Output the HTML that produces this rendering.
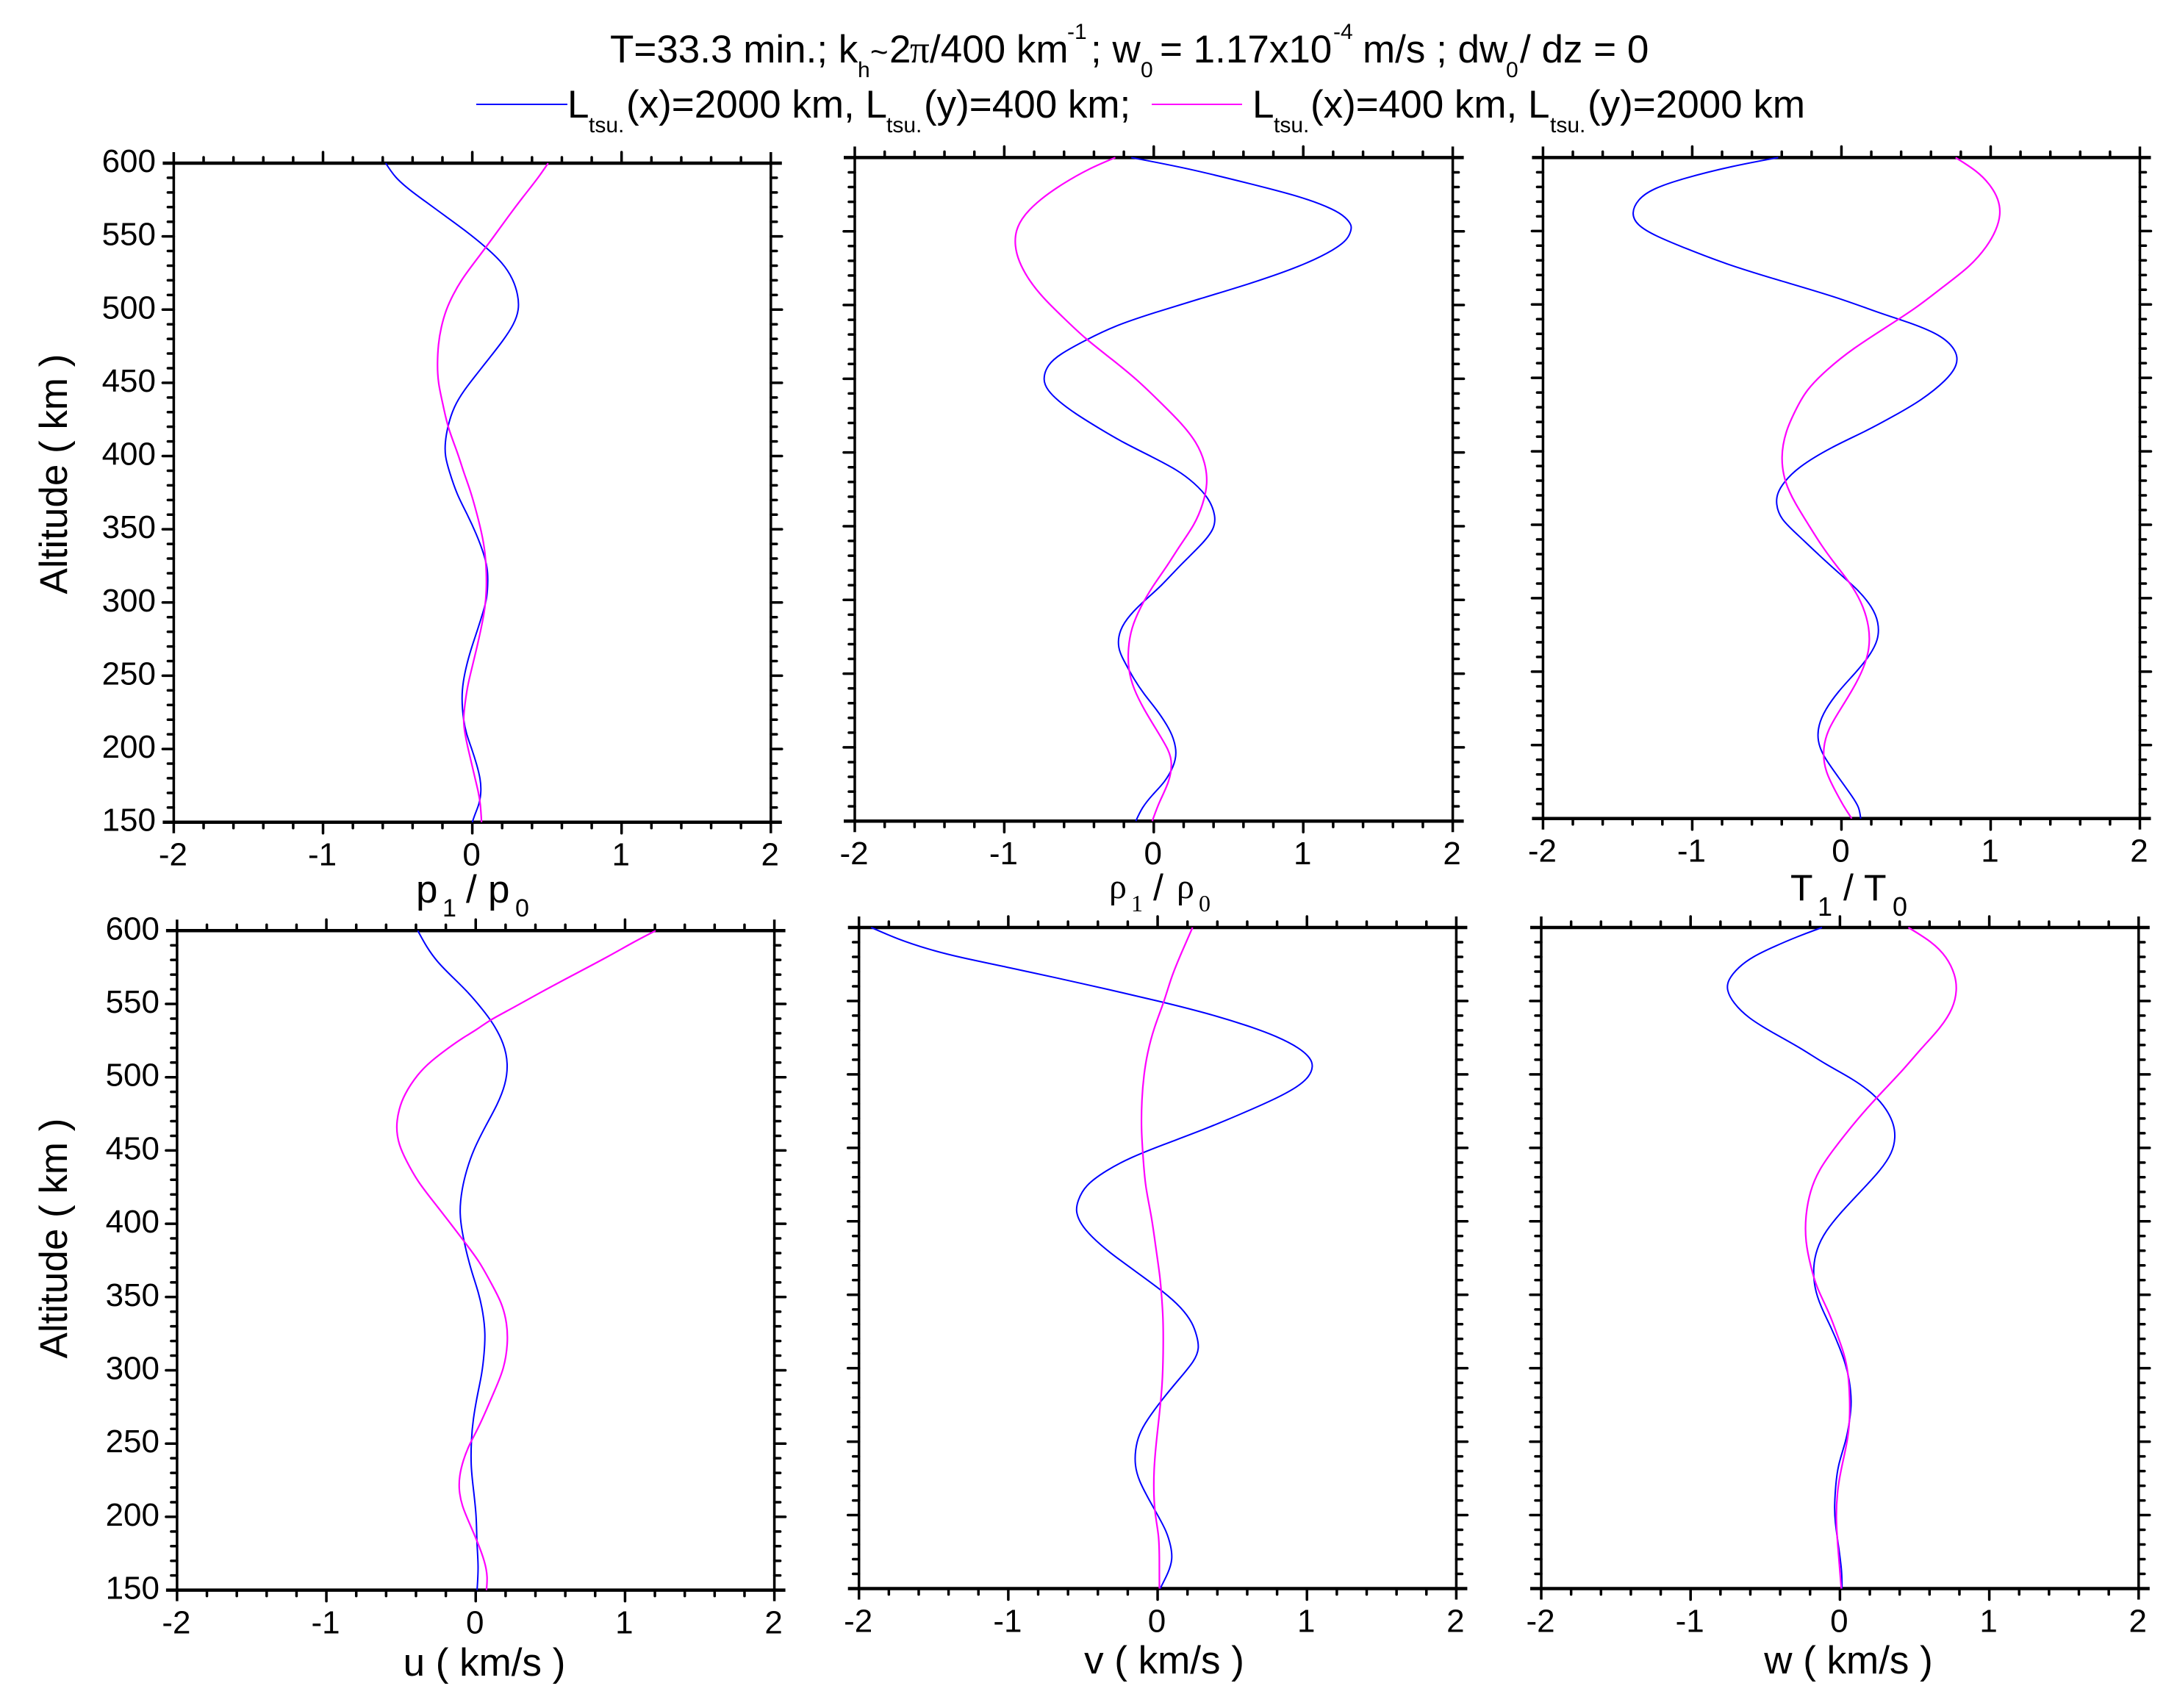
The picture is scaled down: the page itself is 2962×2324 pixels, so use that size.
<!DOCTYPE html>
<html lang="en">
<head>
<meta charset="utf-8">
<title>Altitude profiles of tsunami-driven perturbations</title>
<style>
html,body{margin:0;padding:0;background:#fff;}
svg{display:block;}
text{font-family:"Liberation Sans",Arial,sans-serif;fill:#000;}
.serif{font-family:"Liberation Serif","Times New Roman",serif;}
.main{font-size:53px;}
.sub{font-size:30px;}
.axsub{font-size:34px;}
.axt{font-size:53px;}
</style>
</head>
<body>
<svg id="figure" xmlns="http://www.w3.org/2000/svg" width="2962" height="2324" viewBox="0 0 2962 2324">
<rect width="2962" height="2324" fill="#fff"/>
<g>
<text class="main" x="830" y="85">T=33.3 min.; k</text>
<text class="sub" x="1167" y="105">h</text>
<text x="1184" y="85" font-size="42">~</text>
<text class="main" x="1210" y="85">2</text>
<text class="main serif" x="1238" y="85">π</text>
<text class="main" x="1265" y="85">/400 km</text>
<text class="sub" x="1452" y="53">-1</text>
<text class="main" x="1484" y="85">; w</text>
<text class="sub" x="1552" y="105">0</text>
<text class="main" x="1578" y="85">= 1.17x10</text>
<text class="sub" x="1814" y="53">-4</text>
<text class="main" x="1854" y="85">m/s ; dw</text>
<text class="sub" x="2049" y="105">0</text>
<text class="main" x="2068" y="85">/ dz = 0</text>
</g>
<g>
<g>
<line x1="648" y1="142" x2="772" y2="142" stroke="#0000ff" stroke-width="2"/>
<text class="main" x="772" y="160">L</text>
<text class="sub" x="801" y="180">tsu.</text>
<text class="main" x="852" y="160">(x)=2000 km, L</text>
<text class="sub" x="1206" y="180">tsu.</text>
<text class="main" x="1257" y="160">(y)=400 km;</text>
</g>
<g>
<line x1="1567" y1="142" x2="1690" y2="142" stroke="#ff00ff" stroke-width="2"/>
<text class="main" x="1704" y="160">L</text>
<text class="sub" x="1733" y="180">tsu.</text>
<text class="main" x="1783" y="160">(x)=400 km, L</text>
<text class="sub" x="2109" y="180">tsu.</text>
<text class="main" x="2160" y="160">(y)=2000 km</text>
</g>
</g>
<text class="axt" transform="translate(91 645) rotate(-90)" text-anchor="middle">Altitude ( km )</text>
<text class="axt" transform="translate(91 1685) rotate(-90)" text-anchor="middle">Altitude ( km )</text>
<g>
<text class="axt" x="566" y="1228">p</text>
<text class="axsub" x="602" y="1247">1</text>
<text class="axt" x="634" y="1228">/</text>
<text class="axt" x="664" y="1228">p</text>
<text class="axsub" x="701" y="1247">0</text>
</g>
<g>
<text class="serif" font-size="48" x="1509" y="1222">ρ</text>
<text class="serif" font-size="32" x="1539" y="1240">1</text>
<text font-size="50" x="1569" y="1225">/</text>
<text class="serif" font-size="48" x="1601" y="1222">ρ</text>
<text class="serif" font-size="32" x="1631" y="1240">0</text>
</g>
<g>
<text font-size="50" x="2436" y="1225">T</text>
<text font-size="36" x="2473" y="1246">1</text>
<text font-size="50" x="2508" y="1225">/</text>
<text font-size="50" x="2536" y="1225">T</text>
<text font-size="36" x="2575" y="1246">0</text>
</g>
<text class="axt" x="659" y="2280" text-anchor="middle">u ( km/s )</text>
<text class="axt" x="1584" y="2277" text-anchor="middle">v ( km/s )</text>
<text class="axt" x="2515" y="2277" text-anchor="middle">w ( km/s )</text>
</svg>
<script>
// ---- axis tick labels ----
const xTickLabels = [-2, -1, 0, 1, 2];
const yTickLabels = [150, 200, 250, 300, 350, 400, 450, 500, 550, 600];

// ---- p1/p0 ----
const pBlueAlt = [600,590.4,581.4,572.5,563.5,554.6,543.4,532,521,510,500,490,478.5,467.4,456,445,433.8,420,409,400,390,373.6,361,346.7,333.5,323.4,315,303.3,295,281.5,269.7,258,246,234.7,219.6,209.6,200,189.4,179.3,171,162.7,156,150];
const pBlueVal = [-0.58,-0.52,-0.417,-0.296,-0.176,-0.055,0.083,0.204,0.273,0.307,0.314,0.28,0.204,0.118,0.03,-0.055,-0.124,-0.166,-0.183,-0.183,-0.156,-0.103,-0.037,0.028,0.077,0.102,0.105,0.099,0.077,0.036,-0.004,-0.037,-0.062,-0.072,-0.06,-0.038,-0.003,0.03,0.055,0.06,0.048,0.02,0];
const pMagentaAlt = [600,590.4,577,563.5,550,536.7,521,510,500,487.7,476.6,463,450,433.8,420,400,390,376.7,361.7,348.5,335,320,308.4,296.4,283,268,254.7,243,231,219.6,209.6,200,189.4,179.3,171,162.7,150];
const pMagentaVal = [0.508,0.445,0.34,0.24,0.145,0.048,-0.07,-0.13,-0.176,-0.21,-0.228,-0.235,-0.23,-0.193,-0.166,-0.09,-0.062,-0.013,0.028,0.061,0.086,0.095,0.095,0.086,0.061,0.028,-0.004,-0.032,-0.049,-0.062,-0.048,-0.028,-0.003,0.02,0.04,0.055,0.062];

// ---- rho1/rho0 ----
const rhoBlueAlt = [600,592.7,582,573.4,564.7,559.4,554,550.7,545,538,526,514,504,494.7,486,476,466.6,459.6,449.5,442,435,426.6,416,407,397,388,379.5,369,357,348,337.4,323.4,309.4,300.7,290,279.7,267.5,257,246.6,236,225.6,215,206.4,196,187,176.6,167.8,159,150];
const rhoBlueVal = [-0.15,0.23,0.655,0.99,1.21,1.285,1.325,1.32,1.3,1.22,0.98,0.63,0.3,0,-0.26,-0.46,-0.63,-0.71,-0.745,-0.71,-0.64,-0.53,-0.36,-0.21,-0.01,0.16,0.27,0.37,0.415,0.405,0.32,0.175,0.05,-0.05,-0.16,-0.23,-0.245,-0.19,-0.135,-0.065,0.02,0.09,0.133,0.155,0.133,0.076,-0.01,-0.08,-0.12];
const rhoMagentaAlt = [600,592.7,582,571.7,561,550.7,540,529.7,517.5,505,491,477.3,463,449,435,421,407,393,379,365,351,337,323,309,295,281,267.5,253,239.5,225.6,211.6,197.5,189,176.6,162.6,150];
const rhoMagentaVal = [-0.257,-0.43,-0.615,-0.76,-0.87,-0.925,-0.93,-0.904,-0.84,-0.743,-0.6,-0.46,-0.277,-0.107,0.034,0.175,0.288,0.345,0.362,0.33,0.274,0.175,0.09,-0.01,-0.09,-0.15,-0.172,-0.172,-0.135,-0.065,0.02,0.105,0.124,0.105,0.034,-0.01];

// ---- T1/T0 ----
const tBlueAlt = [600,594.4,585.6,578.6,571.6,562,554,547,538,527.7,517,505,494,487,478.5,468,459,448.7,434.7,424,413.6,403,389,378.5,371.5,364.5,354,343.4,329.4,315,304.8,294,283.8,271.5,259.2,248.7,236.4,224,213.5,203,192.5,178.5,164.4,157.4,150];
const tBlueVal = [-0.424,-0.725,-1.07,-1.27,-1.365,-1.41,-1.37,-1.255,-1.04,-0.78,-0.44,-0.03,0.258,0.478,0.68,0.775,0.78,0.708,0.536,0.35,0.163,-0.066,-0.295,-0.39,-0.43,-0.44,-0.41,-0.295,-0.152,0.006,0.12,0.206,0.25,0.25,0.178,0.09,-0.023,-0.11,-0.155,-0.162,-0.123,-0.023,0.077,0.12,0.129];
const tMagentaAlt = [600,590.9,582,571.6,561,550.5,540,526,512,498,484,470,456,441.7,427.6,413.6,396,378.5,364.5,350.4,336.4,322.4,308,294,280,266,252,238,224,210,196,182,168,157.4,150];
const tMagentaVal = [0.765,0.908,0.994,1.055,1.068,1.037,0.98,0.865,0.68,0.507,0.292,0.077,-0.095,-0.238,-0.31,-0.375,-0.408,-0.38,-0.31,-0.223,-0.138,-0.037,0.077,0.149,0.187,0.19,0.149,0.077,-0.009,-0.095,-0.127,-0.109,-0.037,0.02,0.069];

// ---- u (km/s) ----
const uBlueAlt = [600,589,578.5,568,557.7,547,537,523,509,495,481.4,467.5,450,436,424,408.6,394.7,380.9,367,353,339,325,311.5,297.6,283.8,266.4,252.6,235,221,200.5,183,165.8,150];
const uBlueVal = [-0.388,-0.33,-0.257,-0.152,-0.048,0.04,0.116,0.19,0.218,0.2,0.146,0.07,-0.018,-0.063,-0.092,-0.11,-0.092,-0.063,-0.027,0.02,0.05,0.065,0.057,0.042,0.012,-0.018,-0.03,-0.033,-0.018,0.006,0.006,0.02,0.009];
const uMagentaAlt = [600,592.4,582,568,557.7,547,538.6,532.7,526.5,520.2,511,502,488,478,466,453.7,443,429,415.5,401.7,388,374,360,346,332,318.4,301,287,273,259.5,249,238.7,228,218,207.5,197,183,169,158.9,150];
const uMagentaVal = [1.205,1.06,0.882,0.62,0.43,0.245,0.087,0.012,-0.093,-0.18,-0.3,-0.39,-0.48,-0.515,-0.535,-0.515,-0.465,-0.39,-0.286,-0.18,-0.078,0.027,0.1,0.176,0.21,0.216,0.19,0.13,0.072,0.012,-0.045,-0.084,-0.11,-0.113,-0.092,-0.048,0.012,0.063,0.08,0.072];

// ---- v (km/s) ----
const vBlueAlt = [600,592,585,580,573,566,557.5,550,542,533,526,517.7,510.8,505.6,498.7,491.7,483,472.7,462.3,452,443.3,434.7,424.3,414,407,398.3,389.7,379.3,365.5,351.6,341,330.9,322,313.6,305,293,279,265,254.8,244.4,234,223.7,210,199.5,189,178.7,170,161.4,150];
const vBlueVal = [-1.918,-1.74,-1.53,-1.34,-1.008,-0.69,-0.315,0.003,0.32,0.61,0.797,0.956,1.026,1.042,1.018,0.942,0.783,0.55,0.306,0.032,-0.185,-0.344,-0.488,-0.535,-0.55,-0.517,-0.445,-0.33,-0.142,0.046,0.162,0.234,0.263,0.28,0.248,0.147,0.032,-0.07,-0.127,-0.15,-0.153,-0.127,-0.055,0.003,0.06,0.09,0.1,0.075,0.017];
const vMagentaAlt = [600,583.4,566,550,531.5,514,500,483,462,445,424,403.5,381.8,362,350,334,310,289,268.6,250,230.6,213,200,186,172,150];
const vMagentaVal = [0.234,0.162,0.09,0.046,-0.026,-0.07,-0.092,-0.107,-0.11,-0.098,-0.084,-0.04,-0.012,0.017,0.026,0.038,0.038,0.032,0.012,-0.009,-0.026,-0.026,-0.017,0.009,0.012,0.012];

// ---- w (km/s) ----
const wBlueAlt = [600,593.8,586.9,580,573,564.4,557.5,548.8,538.4,528,517.7,507,497,486.5,476,466,457,446.8,434.7,420.8,407,393,381,369,355,342,327.4,313.6,303,292.8,277,265,251,234,220,206.4,196,178.7,161.4,150];
const wBlueVal = [-0.12,-0.286,-0.444,-0.587,-0.68,-0.75,-0.76,-0.716,-0.616,-0.444,-0.258,-0.1,0.086,0.229,0.315,0.362,0.372,0.352,0.272,0.143,0.014,-0.1,-0.157,-0.18,-0.172,-0.129,-0.057,0,0.037,0.063,0.08,0.066,0.043,-0.014,-0.029,-0.037,-0.034,-0.009,0.014,0.014];
const wMagentaAlt = [600,590.3,580,567.8,557.5,545,531.5,517.7,503.8,490,476,462,449,434.7,420.8,403.5,386,369,355,338,324,310,296.3,279,265,251,234,220,199.5,178.7,161.4,150];
const wMagentaVal = [0.458,0.616,0.716,0.772,0.785,0.759,0.673,0.544,0.43,0.3,0.172,0.057,-0.043,-0.143,-0.2,-0.232,-0.232,-0.195,-0.157,-0.072,-0.023,0.029,0.057,0.066,0.066,0.052,0.014,-0.014,-0.029,-0.014,0,0.009];

const SVGNS = 'http://www.w3.org/2000/svg';
const figure = document.getElementById('figure');
const xMin = -2, xMax = 2, yMin = 150, yMax = 600;
const xMinorStep = 0.2, yMinorStep = 10;
const majorLen = 15, minorLen = 8;

function make(tag, parent, attrs) {
  const node = document.createElementNS(SVGNS, tag);
  for (const key in attrs) node.setAttribute(key, attrs[key]);
  parent.appendChild(node);
  return node;
}

function isMultiple(v, step) {
  return Math.abs(v / step - Math.round(v / step)) < 1e-6;
}

// Smooth cubic B-spline through the read-off control points (end points are pinned).
function curvePath(alts, vals, sx, sy) {
  const pts = alts.map(function (a, i) { return [sx(vals[i]), sy(a)]; });
  const n = pts.length;
  const at = function (i) {
    if (i < 0) return [2 * pts[0][0] - pts[1][0], 2 * pts[0][1] - pts[1][1]];
    if (i >= n) return [2 * pts[n - 1][0] - pts[n - 2][0], 2 * pts[n - 1][1] - pts[n - 2][1]];
    return pts[i];
  };
  let d = 'M' + pts[0][0].toFixed(2) + ' ' + pts[0][1].toFixed(2);
  for (let i = 0; i < n - 1; i++) {
    const p1 = at(i), p2 = at(i + 1), p3 = at(i + 2);
    const c1x = (2 * p1[0] + p2[0]) / 3, c1y = (2 * p1[1] + p2[1]) / 3;
    const c2x = (p1[0] + 2 * p2[0]) / 3, c2y = (p1[1] + 2 * p2[1]) / 3;
    const ex = (p1[0] + 4 * p2[0] + p3[0]) / 6, ey = (p1[1] + 4 * p2[1] + p3[1]) / 6;
    d += 'C' + c1x.toFixed(2) + ' ' + c1y.toFixed(2) + ' ' + c2x.toFixed(2) + ' ' + c2y.toFixed(2) + ' ' + ex.toFixed(2) + ' ' + ey.toFixed(2);
  }
  return d;
}

function drawPanel(name, box, blueAlt, blueVal, magentaAlt, magentaVal) {
  const sx = function (v) { return box.left + (v - xMin) / (xMax - xMin) * (box.right - box.left); };
  const sy = function (a) { return box.bottom - (a - yMin) / (yMax - yMin) * (box.bottom - box.top); };

  const panel = make('g', figure, {});
  
  

  const axes = make('g', panel, { stroke: '#000', fill: 'none' });
  
  
  make('line', axes, { x1: box.left - majorLen, x2: box.right + majorLen, y1: box.top, y2: box.top, 'stroke-width': 4.5 });
  make('line', axes, { x1: box.left - majorLen, x2: box.right + majorLen, y1: box.bottom, y2: box.bottom, 'stroke-width': 4.5 });
  make('line', axes, { x1: box.left, x2: box.left, y1: box.top - majorLen, y2: box.bottom + majorLen, 'stroke-width': 3.5 });
  make('line', axes, { x1: box.right, x2: box.right, y1: box.top - majorLen, y2: box.bottom + majorLen, 'stroke-width': 3.5 });

  const ticks = make('g', panel, { stroke: '#000', 'stroke-width': 3.5, 'stroke-linecap': 'round' });
  
  
  const xCount = Math.round((xMax - xMin) / xMinorStep);
  for (let i = 1; i < xCount; i++) {
    const v = xMin + i * xMinorStep;
    if (isMultiple(v, 1)) {
      make('line', ticks, { x1: sx(v), x2: sx(v), y1: box.top - majorLen, y2: box.top });
      make('line', ticks, { x1: sx(v), x2: sx(v), y1: box.bottom, y2: box.bottom + majorLen });
    } else {
      make('line', ticks, { x1: sx(v), x2: sx(v), y1: box.top - minorLen, y2: box.top });
      make('line', ticks, { x1: sx(v), x2: sx(v), y1: box.bottom, y2: box.bottom + minorLen });
    }
  }
  const yCount = Math.round((yMax - yMin) / yMinorStep);
  for (let i = 1; i < yCount; i++) {
    const a = yMin + i * yMinorStep;
    const len = isMultiple(a, 50) ? majorLen : minorLen;
    make('line', ticks, { x1: box.left - len, x2: box.left, y1: sy(a), y2: sy(a) });
    make('line', ticks, { x1: box.right, x2: box.right + len, y1: sy(a), y2: sy(a) });
  }

  const xLabels = make('g', panel, { 'text-anchor': 'middle', 'font-size': 44 });
  
  
  xTickLabels.forEach(function (v) {
    const label = make('text', xLabels, { x: sx(v) - 1, y: box.bottom + 59 });
    label.textContent = String(v);
  });

  if (box.yLabelRight) {
    const yLabels = make('g', panel, { 'text-anchor': 'end', 'font-size': 44 });
    
    
    yTickLabels.forEach(function (a) {
      const label = make('text', yLabels, { x: box.yLabelRight, y: sy(a) + 12 });
      label.textContent = String(a);
    });
  }

  const blue = make('path', panel, { d: curvePath(blueAlt, blueVal, sx, sy), fill: 'none', stroke: '#0000ff', 'stroke-width': 2, 'stroke-linejoin': 'round' });
  
  
  const magenta = make('path', panel, { d: curvePath(magentaAlt, magentaVal, sx, sy), fill: 'none', stroke: '#ff00ff', 'stroke-width': 2.2, 'stroke-linejoin': 'round' });
  
  
}

drawPanel('p', { left: 236.4, right: 1048.8, top: 222, bottom: 1118.7, yLabelRight: 212 }, pBlueAlt, pBlueVal, pMagentaAlt, pMagentaVal);
drawPanel('rho', { left: 1163, right: 1976.6, top: 214.4, bottom: 1117.2 }, rhoBlueAlt, rhoBlueVal, rhoMagentaAlt, rhoMagentaVal);
drawPanel('t', { left: 2099.4, right: 2911.5, top: 214.4, bottom: 1113.7 }, tBlueAlt, tBlueVal, tMagentaAlt, tMagentaVal);
drawPanel('u', { left: 240.9, right: 1053.6, top: 1266.3, bottom: 2163.6, yLabelRight: 217 }, uBlueAlt, uBlueVal, uMagentaAlt, uMagentaVal);
drawPanel('v', { left: 1168.7, right: 1981.4, top: 1262, bottom: 2161.5 }, vBlueAlt, vBlueVal, vMagentaAlt, vMagentaVal);
drawPanel('w', { left: 2097, right: 2909.8, top: 1262, bottom: 2161.5 }, wBlueAlt, wBlueVal, wMagentaAlt, wMagentaVal);
</script>
</body>
</html>
